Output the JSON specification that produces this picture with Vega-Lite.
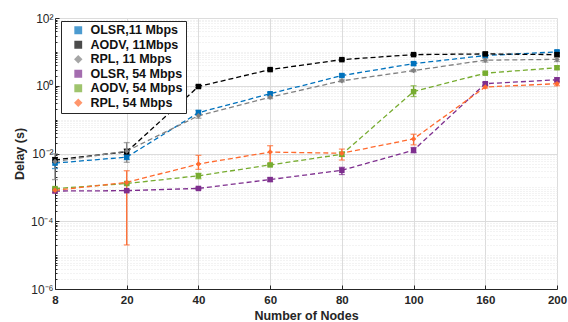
{
  "$schema": "https://vega.github.io/schema/vega-lite/v6.json",
  "width": 502,
  "height": 271,
  "autosize": {"type": "none"},
  "padding": {"left": 55, "top": 18, "right": 11, "bottom": 33},
  "background": "white",
  "config": {
    "view": {"stroke": null},
    "font": "Liberation Sans",
    "axis": {"domainColor": "#262626", "tickColor": "#262626", "labelColor": "#262626", "titleColor": "#262626", "gridColor": "#dcdcdc", "labelFont": "Liberation Sans", "titleFont": "Liberation Sans", "labelFontSize": 11, "titleFontSize": 12, "titleFontWeight": "bold"}
  },
  "data": {"values": [
    {"series": "OLSR,11 Mbps", "nodes": 8, "delay": 0.0052, "lo": 0.0036, "hi": 0.0066},
    {"series": "OLSR,11 Mbps", "nodes": 20, "delay": 0.0078, "lo": 0.0066, "hi": 0.0092},
    {"series": "OLSR,11 Mbps", "nodes": 40, "delay": 0.16, "lo": 0.14, "hi": 0.19},
    {"series": "OLSR,11 Mbps", "nodes": 60, "delay": 0.58, "lo": 0.52, "hi": 0.64},
    {"series": "OLSR,11 Mbps", "nodes": 80, "delay": 2.0, "lo": 1.85, "hi": 2.2},
    {"series": "OLSR,11 Mbps", "nodes": 100, "delay": 4.5, "lo": 4.1, "hi": 5.0},
    {"series": "OLSR,11 Mbps", "nodes": 160, "delay": 7.8, "lo": 7.2, "hi": 8.4},
    {"series": "OLSR,11 Mbps", "nodes": 200, "delay": 10, "lo": 9.2, "hi": 10.8},
    {"series": "AODV, 11Mbps", "nodes": 8, "delay": 0.0065, "lo": 0.0056, "hi": 0.0076},
    {"series": "AODV, 11Mbps", "nodes": 20, "delay": 0.0112, "lo": 0.0092, "hi": 0.0135},
    {"series": "AODV, 11Mbps", "nodes": 40, "delay": 0.95, "lo": 0.88, "hi": 1.03},
    {"series": "AODV, 11Mbps", "nodes": 60, "delay": 3.0, "lo": 2.8, "hi": 3.2},
    {"series": "AODV, 11Mbps", "nodes": 80, "delay": 5.9, "lo": 5.6, "hi": 6.2},
    {"series": "AODV, 11Mbps", "nodes": 100, "delay": 8.3, "lo": 7.9, "hi": 8.7},
    {"series": "AODV, 11Mbps", "nodes": 160, "delay": 8.7, "lo": 8.0, "hi": 9.7},
    {"series": "AODV, 11Mbps", "nodes": 200, "delay": 8.3, "lo": 7.6, "hi": 9.4},
    {"series": "RPL, 11 Mbps", "nodes": 8, "delay": 0.0058, "lo": 0.0017, "hi": 0.0098},
    {"series": "RPL, 11 Mbps", "nodes": 20, "delay": 0.0118, "lo": 0.0055, "hi": 0.021},
    {"series": "RPL, 11 Mbps", "nodes": 40, "delay": 0.13, "lo": 0.11, "hi": 0.15},
    {"series": "RPL, 11 Mbps", "nodes": 60, "delay": 0.46, "lo": 0.42, "hi": 0.5},
    {"series": "RPL, 11 Mbps", "nodes": 80, "delay": 1.4, "lo": 1.3, "hi": 1.5},
    {"series": "RPL, 11 Mbps", "nodes": 100, "delay": 2.8, "lo": 2.6, "hi": 3.0},
    {"series": "RPL, 11 Mbps", "nodes": 160, "delay": 5.7, "lo": 5.0, "hi": 6.5},
    {"series": "RPL, 11 Mbps", "nodes": 200, "delay": 6.0, "lo": 5.2, "hi": 7.0},
    {"series": "OLSR, 54 Mbps", "nodes": 8, "delay": 0.00078, "lo": 0.00072, "hi": 0.00085},
    {"series": "OLSR, 54 Mbps", "nodes": 20, "delay": 0.0008, "lo": 0.00074, "hi": 0.00086},
    {"series": "OLSR, 54 Mbps", "nodes": 40, "delay": 0.00093, "lo": 0.00087, "hi": 0.001},
    {"series": "OLSR, 54 Mbps", "nodes": 60, "delay": 0.0017, "lo": 0.0015, "hi": 0.0019},
    {"series": "OLSR, 54 Mbps", "nodes": 80, "delay": 0.0032, "lo": 0.0024, "hi": 0.0039},
    {"series": "OLSR, 54 Mbps", "nodes": 100, "delay": 0.0125, "lo": 0.0105, "hi": 0.015},
    {"series": "OLSR, 54 Mbps", "nodes": 160, "delay": 1.15, "lo": 1.05, "hi": 1.25},
    {"series": "OLSR, 54 Mbps", "nodes": 200, "delay": 1.5, "lo": 1.3, "hi": 1.7},
    {"series": "AODV, 54 Mbps", "nodes": 8, "delay": 0.00092, "lo": 0.00085, "hi": 0.001},
    {"series": "AODV, 54 Mbps", "nodes": 20, "delay": 0.0013, "lo": 0.0012, "hi": 0.0014},
    {"series": "AODV, 54 Mbps", "nodes": 40, "delay": 0.0022, "lo": 0.0018, "hi": 0.0026},
    {"series": "AODV, 54 Mbps", "nodes": 60, "delay": 0.0046, "lo": 0.0043, "hi": 0.005},
    {"series": "AODV, 54 Mbps", "nodes": 80, "delay": 0.0095, "lo": 0.0082, "hi": 0.011},
    {"series": "AODV, 54 Mbps", "nodes": 100, "delay": 0.67, "lo": 0.48, "hi": 1.0},
    {"series": "AODV, 54 Mbps", "nodes": 160, "delay": 2.35, "lo": 2.2, "hi": 2.5},
    {"series": "AODV, 54 Mbps", "nodes": 200, "delay": 3.4, "lo": 3.1, "hi": 3.8},
    {"series": "RPL, 54 Mbps", "nodes": 8, "delay": 0.00082, "lo": 0.0007, "hi": 0.00095},
    {"series": "RPL, 54 Mbps", "nodes": 20, "delay": 0.0014, "lo": 0.00002, "hi": 0.0031},
    {"series": "RPL, 54 Mbps", "nodes": 40, "delay": 0.0049, "lo": 0.0034, "hi": 0.0088},
    {"series": "RPL, 54 Mbps", "nodes": 60, "delay": 0.011, "lo": 0.0048, "hi": 0.017},
    {"series": "RPL, 54 Mbps", "nodes": 80, "delay": 0.0102, "lo": 0.0064, "hi": 0.0135},
    {"series": "RPL, 54 Mbps", "nodes": 100, "delay": 0.027, "lo": 0.018, "hi": 0.037},
    {"series": "RPL, 54 Mbps", "nodes": 160, "delay": 0.92, "lo": 0.85, "hi": 1.0},
    {"series": "RPL, 54 Mbps", "nodes": 200, "delay": 1.15, "lo": 1.0, "hi": 1.3}
  ]},
  "encoding": {
    "x": {"field": "nodes", "type": "ordinal", "scale": {"type": "point", "padding": 0},
      "axis": {"title": "Number of Nodes", "labelAngle": 0, "labelFontWeight": "bold", "labelFontSize": 11.5, "tickSize": -4, "labelPadding": 9, "titlePadding": 4, "titleFontSize": 12.5, "grid": true, "gridColor": "#dcdcdc", "domainColor": "#262626"}},
    "y": {"field": "delay", "type": "quantitative", "scale": {"type": "log", "domain": [0.000001, 100], "nice": false},
      "axis": {"title": "Delay (s)", "titlePadding": 4, "titleFontSize": 12.5,
        "values": [0.000001,0.000002,0.000003,0.000004,0.000005,0.000006,0.000007,0.000008,0.000009,0.00001,0.00002,0.00003,0.00004,0.00005,0.00006,0.00007,0.00008,0.00009,0.0001,0.0002,0.0003,0.0004,0.0005,0.0006,0.0007,0.0008,0.0009,0.001,0.002,0.003,0.004,0.005,0.006,0.007,0.008,0.009,0.01,0.02,0.03,0.04,0.05,0.06,0.07,0.08,0.09,0.1,0.2,0.3,0.4,0.5,0.6,0.7,0.8,0.9,1,2,3,4,5,6,7,8,9,10,20,30,40,50,60,70,80,90,100],
        "labelExpr": "datum.value == 100 ? '10²' : datum.value == 1 ? '10⁰' : datum.value == 0.01 ? '10⁻²' : datum.value == 0.0001 ? '10⁻⁴' : datum.value == 0.000001 ? '10⁻⁶' : ''",
        "labelPadding": 6,
        "labelFontSize": 12,
        "tickSize": {"condition": {"test": "indexof([0.000001,0.0001,0.01,1,100], datum.value) >= 0", "value": -4}, "value": -2},
        "gridDash": {"condition": {"test": "indexof([0.000001,0.0001,0.01,1,100], datum.value) >= 0", "value": []}, "value": [1, 2]},
        "gridColor": {"condition": {"test": "indexof([0.000001,0.0001,0.01,1,100], datum.value) >= 0", "value": "#dcdcdc"}, "value": "#e6e6e6"},
        "grid": true}}
  },
  "layer": [
    {"mark": {"type": "errorbar", "ticks": {"size": 6, "thickness": 1.3}, "thickness": 1.3},
      "encoding": {
        "y": {"field": "lo", "type": "quantitative"},
        "y2": {"field": "hi"},
        "color": {"field": "series", "type": "nominal"}
      }},
    {"mark": {"type": "line", "strokeDash": [5, 3], "strokeWidth": 1.3},
      "encoding": {
        "color": {"field": "series", "type": "nominal"}
      }},
    {"mark": {"type": "point", "filled": true, "opacity": 1, "size": 30},
      "encoding": {
        "color": {"field": "series", "type": "nominal",
          "scale": {"domain": ["OLSR,11 Mbps", "AODV, 11Mbps", "RPL, 11 Mbps", "OLSR, 54 Mbps", "AODV, 54 Mbps", "RPL, 54 Mbps"],
            "range": ["#0072BD", "#000000", "#808080", "#7E2F8E", "#77AC30", "#FF6A2E"]},
          "legend": {"title": null, "orient": "none", "legendX": 6, "legendY": 3, "fillColor": "white", "strokeColor": "#262626", "padding": 3, "rowPadding": 1.5, "labelFontSize": 12.5, "labelFontWeight": "bold", "labelColor": "#111111", "labelFont": "Liberation Sans", "symbolSize": 40, "symbolStrokeWidth": 1.5, "symbolOffset": 8, "labelOffset": 6, "labelLimit": 200}},
        "shape": {"field": "series", "type": "nominal",
          "scale": {"domain": ["OLSR,11 Mbps", "AODV, 11Mbps", "RPL, 11 Mbps", "OLSR, 54 Mbps", "AODV, 54 Mbps", "RPL, 54 Mbps"],
            "range": ["square", "square", "diamond", "square", "square", "diamond"]}}
      }}
  ]
}
